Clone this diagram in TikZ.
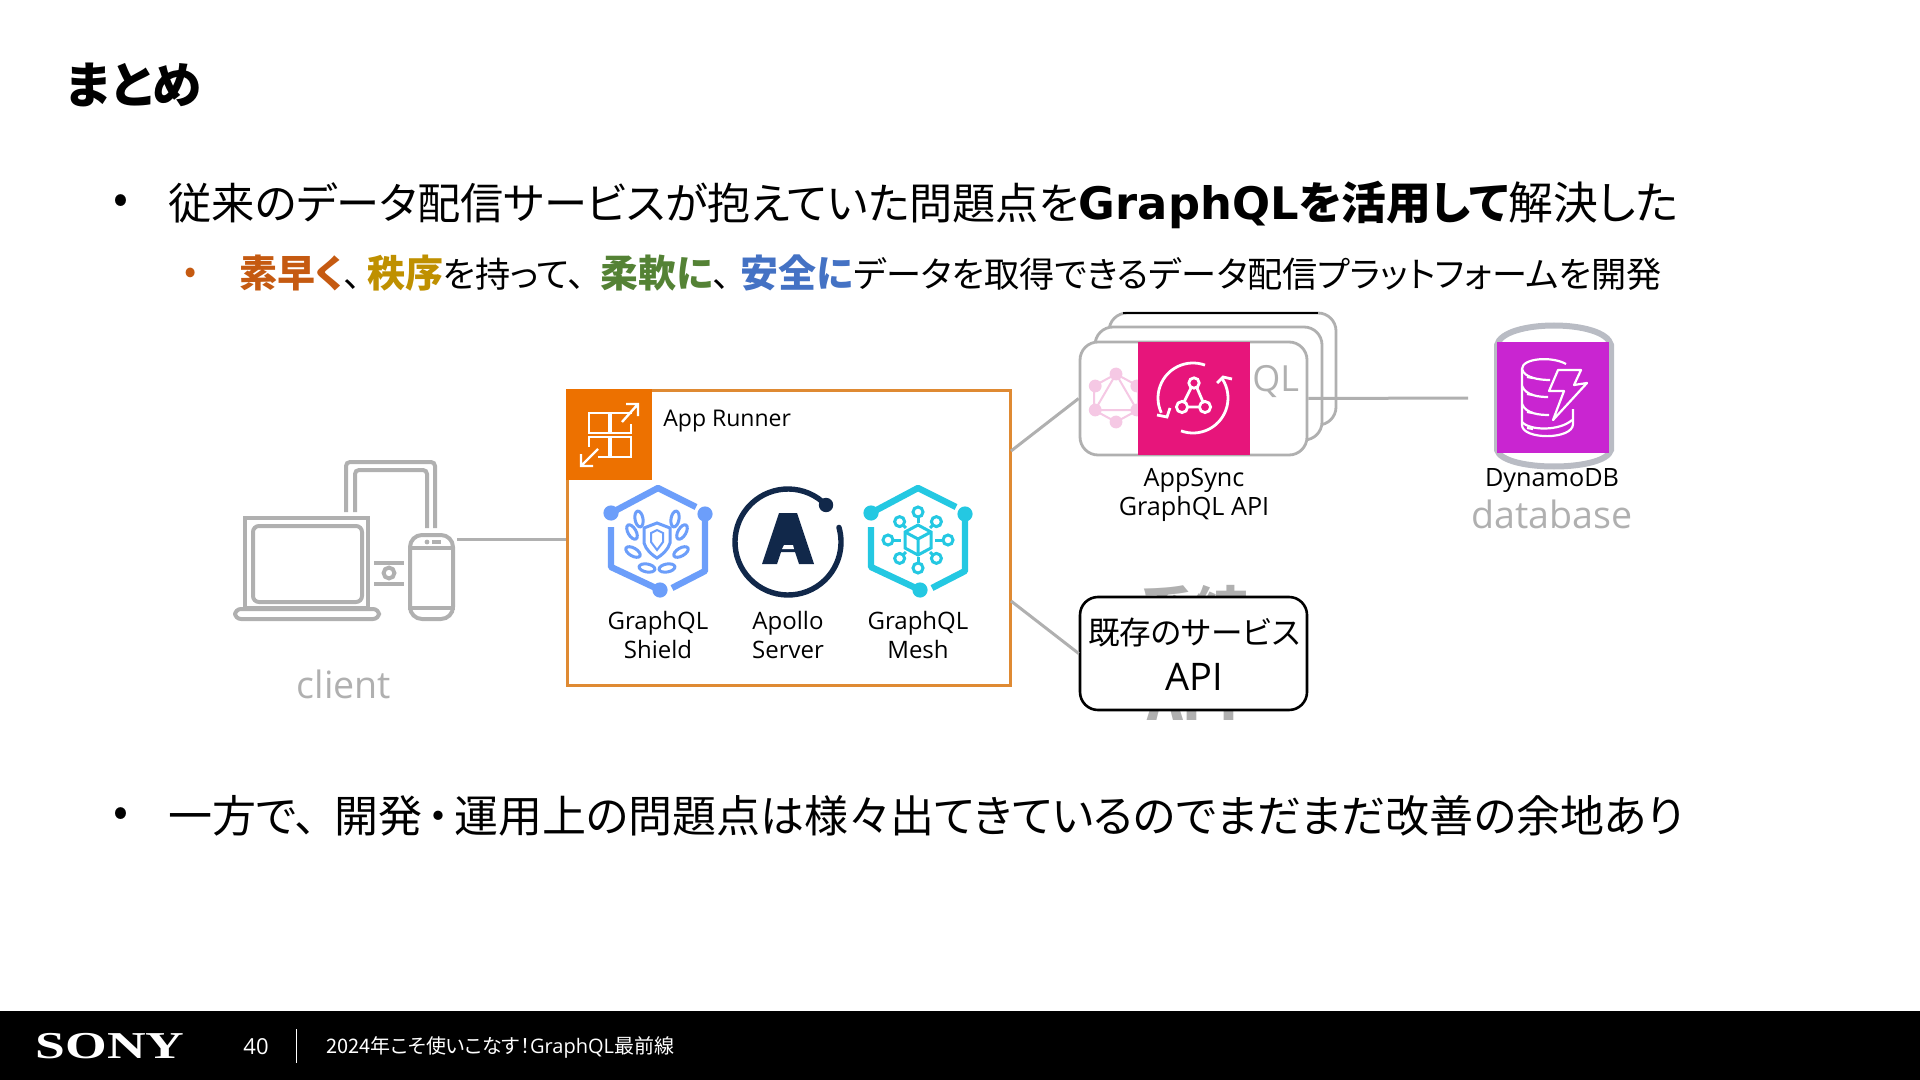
\documentclass[tikz,border=0pt]{standalone}
\usepackage{fontspec}
\usepackage{xcolor}
\setmainfont[RawFeature={+palt}]{Noto Sans CJK JP}
\newfontfamily\labelfont{Open Sans}
\newfontfamily\boldlatin{DejaVu Sans}
\newfontfamily\logofont{Liberation Serif}
\usetikzlibrary{positioning}
\usetikzlibrary{fit,calc}
\definecolor{linkgray}{HTML}{B0B0B0}
\definecolor{runneredge}{HTML}{DF8A33}
\definecolor{runnerfill}{HTML}{ED7100}
\definecolor{syncpink}{HTML}{E7157B}
\definecolor{logopink}{HTML}{F5C8E4}
\definecolor{dynamopurple}{HTML}{C925D1}
\definecolor{drumgray}{HTML}{B9BCC4}
\definecolor{shieldblue}{HTML}{6C9EFA}
\definecolor{meshcyan}{HTML}{24C8E2}
\definecolor{apollonavy}{HTML}{11284A}
\definecolor{fastorange}{HTML}{C55A11}
\definecolor{ordergold}{HTML}{BF9000}
\definecolor{softgreen}{HTML}{548235}
\definecolor{safeblue}{HTML}{4472C4}
\tikzset{
  link/.style={draw=linkgray,line width=1.5pt},
  icon/.style={draw=linkgray,line width=2pt,rounded corners=2pt},
  card/.style={draw=linkgray,fill=white,line width=1.4pt,rounded corners=9pt,inner sep=0pt},
  square/.style={inner sep=0pt,draw=none},
  textline/.style={anchor=base west,inner sep=0pt},
  caption/.style={align=center,inner sep=0pt,font=\labelfont\fontsize{12pt}{14.2pt}\selectfont},
  widecaption/.style={caption,font=\labelfont\fontsize{12.6pt}{14.2pt}\selectfont},
  greytag/.style={text=linkgray,inner sep=0pt,font=\labelfont\fontsize{18.8pt}{20pt}\selectfont},
  hiddentag/.style={anchor=base,inner sep=0pt,text=linkgray,font=\bfseries\fontsize{27pt}{30pt}\selectfont},
}
\newcommand{\hexframe}[2]{
  \begin{scope}[shift={(#1,540)},#2,line width=3.2pt,line join=round]
    \draw (-47,-27) -- (0,-52) -- (38,-33);
    \draw (47,-26) -- (47,31) -- (14,48);
    \draw (2,50) -- (-47,27) -- (-47,-13);
    \fill (-47,-27) circle (3.8pt) (47,-26) circle (3.8pt) (2,50) circle (3.8pt);
  \end{scope}
}
\newcommand{\keyword}[2]{{\fontsize{19pt}{22pt}\selectfont\bfseries\textcolor{#1}{#2}}}
\begin{document}
\begin{tikzpicture}[x=0.5pt,y=-0.5pt]
\useasboundingbox (0,0) rectangle (1920,1080);

\node[textline,font=\bfseries\fontsize{24.8pt}{28pt}\selectfont] (title) at (66,104) {まとめ};

\node[anchor=center,inner sep=0pt,font=\fontsize{22pt}{26pt}\selectfont] (bullet1) at (121,204) {•};
\node[textline,font=\fontsize{22.4pt}{26pt}\selectfont] (line1) at (168,220)
  {{\fontsize{21.6pt}{26pt}\selectfont 従来のデータ配信サービスが抱えていた問題点を}\textbf{{\boldlatin GraphQL}を活用して}解決した};
\node[anchor=center,inner sep=0pt,text=fastorange,font=\fontsize{18pt}{22pt}\selectfont] (bullet2) at (191,276) {•};
\node[textline,font=\fontsize{17.6pt}{22pt}\selectfont] (line2) at (239,288)
  {\keyword{fastorange}{素早く}、\hspace{3pt}\keyword{ordergold}{秩序}を持って、\hspace{7.5pt}\keyword{softgreen}{柔軟に}、\hspace{5pt}\keyword{safeblue}{安全に}データを取得できるデータ配信プラットフォームを開発};
\node[anchor=center,inner sep=0pt,font=\fontsize{22pt}{26pt}\selectfont] (bullet3) at (121,817) {•};
\node[textline,font=\fontsize{22pt}{26pt}\selectfont] (line3) at (168,832)
  {一方で、\hspace{8.5pt}開発\hspace{2.5pt}・\hspace{2.5pt}運用上の問題点は様々出てきているのでまだまだ改善の余地あり};

% client
\node[icon,fit={(245,518)(368,608)},inner sep=0pt,sharp corners] (laptop) {};
\node[icon,fit={(253,526)(362,602)},inner sep=0pt,rounded corners=3pt] (screen) {};
\node[icon,fill=white,fit={(235,609)(379,619)},inner sep=0pt,rounded corners=3pt] (base) {};
\node[icon,fit={(410,535)(453,619)},inner sep=0pt,rounded corners=6pt] (phone) {};
\draw[icon,sharp corners] (phone.west |- 0,548) -- (phone.east |- 0,548);
\draw[icon,sharp corners] (phone.west |- 0,608) -- (phone.east |- 0,608);
\fill[linkgray] (427,542) circle (1.2pt);
\fill[linkgray] (432,540) rectangle (441,544);
\draw[icon] (346,512) |- (435,462) -- (435,528);
\draw[icon] (355,512) |- (427,470) -- (427,528);
\draw[icon] (374,563) -- (404,563);
\draw[icon] (374,584) -- (404,584);
\draw[icon] (389,573) circle (2.7pt);
\node[greytag] (client) at (344,684) {client};
\coordinate (phoneport) at (457,539);

% app runner
\node[draw=runneredge,fill=white,line width=1.5pt,fit={(567,390)(1010,685)},inner sep=0pt] (runner) {};
\fill[runnerfill] (runner.north west) rectangle (652,480);
\begin{scope}[white,line width=1.2pt]
  \foreach \gx in {589,611} \foreach \gy in {413,437} \draw (\gx,\gy) rectangle ++(20,20);
  \fill[runnerfill] (621,414) rectangle (632,424);
  \fill[runnerfill] (588,447) rectangle (598,458);
  \draw (622,422) -- (638,404) (626,404) -- (638,404) -- (638,416);
  \draw (598,449) -- (581,466) (581,454) -- (581,466) -- (593,466);
\end{scope}
\node[anchor=west,inner sep=0pt,font=\labelfont\fontsize{11.5pt}{14pt}\selectfont] (runnerlabel) at (663,421) {App Runner};
\draw[link] (phoneport) -- (phoneport -| runner.west);

% graphql shield
\hexframe{658}{shieldblue}
\begin{scope}[shift={(657,540)},shieldblue,line width=1.5pt]
  \draw (-13,-12) -- (0,-17) -- (13,-12) -- (13,3) .. controls (11,10) and (5,15) .. (0,18) .. controls (-5,15) and (-11,10) .. (-13,3) -- cycle;
  \draw[line width=1pt] (-6,-7) -- (0,-10) -- (6,-7) -- (6,2) -- (0,10) -- (-6,2) -- cycle;
  \foreach \lx/\ly/\lr in {18/-21/80,25/-8/60,24/12/30,10/28/10}{
    \draw (\lx,\ly) ellipse[x radius=4pt,y radius=2pt,rotate=\lr];
    \draw (-\lx,\ly) ellipse[x radius=4pt,y radius=2pt,rotate=-\lr];
  }
\end{scope}
\node[caption] (shieldlabel) at (658,635) {GraphQL\\Shield};

% apollo server
\coordinate (apollo) at (788,542);
\draw[apollonavy,line width=2.7pt,line cap=round] ($(apollo)+(44:26.5pt)$) arc[start angle=44,end angle=376,radius=26.5pt];
\fill[apollonavy] (826,505) circle (3.6pt);
\fill[apollonavy] (762,564) -- (779,513) -- (797,513) -- (814,564) -- (799,564) -- (795,552) -- (781,552) -- (777,564) -- cycle;
\fill[white] (784,545) -- (793,545) -- (794,549) -- (782,549) -- cycle;
\node[caption] (apollolabel) at (788,635) {Apollo\\Server};

% graphql mesh
\hexframe{918}{meshcyan}
\begin{scope}[shift={(918,540)},meshcyan,line width=1.5pt]
  \draw (0,-15) -- (13,-8) -- (13,8) -- (0,15) -- (-13,8) -- (-13,-8) -- cycle;
  \draw (-13,-8) -- (0,-1) -- (13,-8) (0,-1) -- (0,15);
  \foreach \ma/\mr in {0/30,45/26,90/28,135/26,180/30,225/26,270/28,315/26}{
    \draw ({\ma}:17) -- ({\ma}:\mr-5);
    \draw ({\ma}:\mr) circle (2.5pt);
  }
\end{scope}
\node[caption] (meshlabel) at (918,635) {GraphQL\\Mesh};

% appsync
\node[card,fit={(1109,313)(1336,425)}] (backcard) {};
\draw[black,line width=1pt] (1123,313) -- (1318,313);
\node[card,fit={(1095,327)(1322,440)}] (midcard) {};
\node[card,fit={(1080,342)(1307,455)}] (frontcard) {};
\begin{scope}[shift={(1116,398)},logopink,line width=1pt]
  \draw (0,-24) -- (22,-12) -- (22,12) -- (0,24) -- (-22,12) -- (-22,-12) -- cycle;
  \draw (0,-24) -- (21,12) -- (-21,12) -- cycle;
  \foreach \da in {-90,-30,30,90,150,210} \fill (\da:24) circle (3.2pt);
\end{scope}
\node[anchor=base west,inner sep=0pt,text=linkgray,font=\labelfont\fontsize{18pt}{20pt}\selectfont] (qltag) at (1252,391) {QL};
\node[square,fill=syncpink,fit={(1138,342)(1250,455)}] (syncsquare) {};
\begin{scope}[shift={(1193,398)},white,line width=1.4pt]
  \draw (70:17.5pt) arc[start angle=70,end angle=205,radius=17.5pt];
  \draw (-110:17.5pt) arc[start angle=-110,end angle=33,radius=17.5pt];
  \draw (-36,17) -- (-26,19) -- (-23,10);
  \draw (24,-15) -- (30,-21) -- (39,-19);
  \draw (1,-15) circle (2.6pt) (-11,9) circle (2.8pt) (12,9) circle (2.8pt);
  \draw (-2,-10) -- (-9,4) (4,-10) -- (10,4) (-6,9) -- (7,9);
\end{scope}
\node[widecaption] (synclabel) at (1194,495) {AppSync\\GraphQL API};

% existing service
\node[hiddentag] (hiddenname) at (1194,631) {系統};
\node[hiddentag] (hiddenapi) at (1193,720) {API};
\node[draw=black,fill=white,line width=1.3pt,rounded corners=9pt,fit={(1080,597)(1307,710)},inner sep=0pt] (service) {};
\node[anchor=center,inner sep=0pt,font=\fontsize{15.8pt}{18pt}\selectfont] (servicename) at (1194,633) {既存のサービス};
\node[anchor=center,inner sep=0pt,font=\labelfont\fontsize{19pt}{21pt}\selectfont] (serviceapi) at (1194,677) {API};

% dynamodb
\draw[drumgray,line width=3pt] (1497,345) .. controls (1503,319) and (1605,319) .. (1611,345) -- (1611,450) .. controls (1605,472) and (1503,472) .. (1497,450) -- cycle;
\node[square,fill=dynamopurple,fit={(1497,342)(1609,453)}] (dynamosquare) {};
\begin{scope}[white,line width=1.1pt,line join=round]
  \draw (1566,364) .. controls (1552,356) and (1522,358) .. (1522,369) -- (1522,425) .. controls (1522,440) and (1573,440) .. (1573,424) -- (1573,409);
  \draw (1522,369) .. controls (1524,378) and (1540,380) .. (1550,380);
  \draw (1522,386) .. controls (1526,396) and (1540,397) .. (1548,397);
  \draw (1522,404) .. controls (1526,414) and (1540,415) .. (1549,415);
  \draw (1522,422) .. controls (1530,431) and (1560,431) .. (1572,420);
  \draw (1558,370) -- (1581,370) -- (1574,385) -- (1587,383) -- (1553,420) -- (1564,391) -- (1549,391) -- cycle;
  \foreach \sy in {377,394,412,428} \draw (1527,\sy) -- (1533,\sy+1);
\end{scope}
\node[widecaption] (dynamolabel) at (1552,481) {DynamoDB};
\node[greytag] (dynamotag) at (1552,514) {database};

\coordinate (syncport) at (1011,451);
\coordinate (serviceport) at (1011,601);
\coordinate (dynamoport) at (1468,398);
\draw[link] (syncport) -- (frontcard.west);
\draw[link] (serviceport) -- (service.west);
\draw[link] (frontcard.east) -- (dynamoport);

% footer
\fill[black] (0,1011) rectangle (1920,1080);
\node[anchor=center,inner sep=0pt,text=white] (sonylogo) at (110,1046) {\scalebox{1.41}[1]{\logofont\bfseries\fontsize{19pt}{22pt}\selectfont SONY}};
\node[anchor=center,inner sep=0pt,text=white,font=\labelfont\fontsize{11pt}{13pt}\selectfont] (pagenum) at (256,1047) {40};
\coordinate (sepstart) at (296,1029);
\draw[white,line width=0.5pt] (sepstart) -- ++(0,34);
\node[anchor=west,inner sep=0pt,text=white,font=\fontsize{10pt}{13pt}\selectfont] (footnote) at (326,1047) {2024年こそ使いこなす！{\labelfont GraphQL}最前線};
\end{tikzpicture}
\end{document}
